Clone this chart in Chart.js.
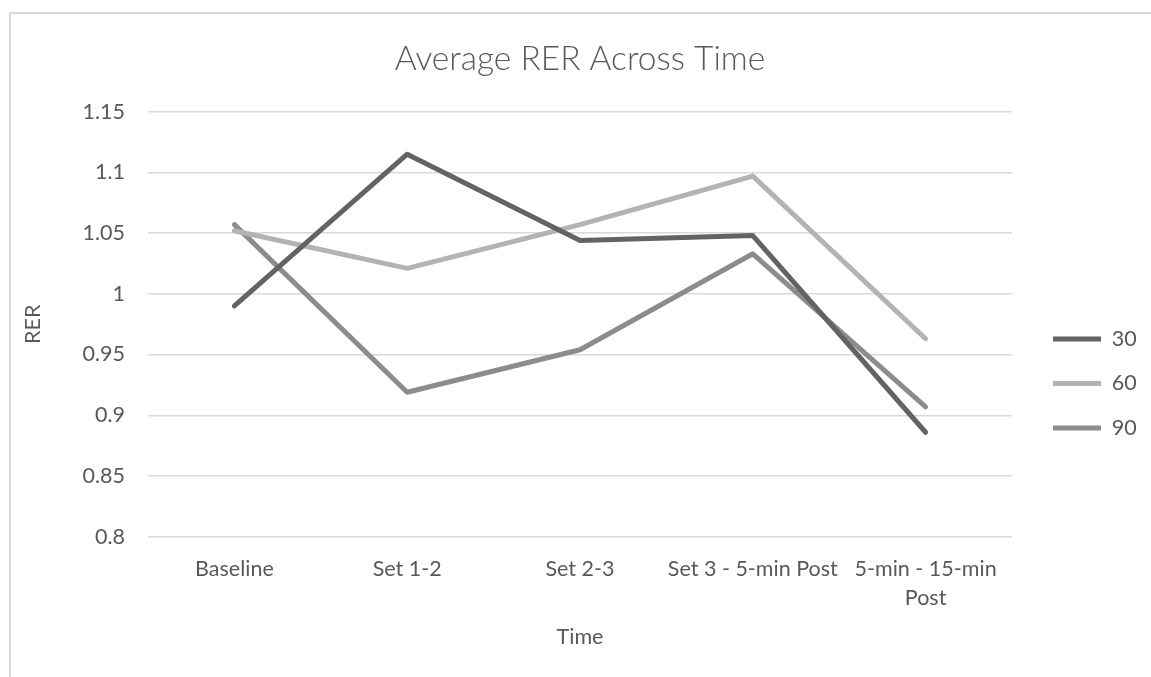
<!DOCTYPE html>
<html><head><meta charset="utf-8">
<script src="https://cdn.jsdelivr.net/npm/chart.js@4.4.1/dist/chart.umd.min.js"></script>
<style>
html,body{margin:0;padding:0;background:#fff;}
#wrap{position:relative;width:1151px;height:677px;overflow:hidden;}
#frame{position:absolute;left:9px;top:12px;width:1200px;height:700px;border-left:2px solid #d9d9d9;border-top:2px solid #d9d9d9;}
canvas{position:absolute;left:0;top:0;}
</style></head><body>
<div id="wrap"><div id="frame"></div><canvas id="c" width="1151" height="677"></canvas></div>
<script>
const categories = ['Baseline', 'Set 1-2', 'Set 2-3', 'Set 3 - 5-min Post', ['5-min - 15-min', 'Post']];
const seriesNames = ['30', '60', '90'];
const series30 = [0.990, 1.115, 1.044, 1.048, 0.886];
const series60 = [1.052, 1.021, 1.057, 1.097, 0.963];
const series90 = [1.057, 0.919, 0.954, 1.033, 0.907];
const yTickLabels = ['0.8', '0.85', '0.9', '0.95', '1', '1.05', '1.1', '1.15'];
const chartTitle = 'Average RER Across Time';
const xTitle = 'Time';
const yTitle = 'RER';

const FONT = 'Lato';
const TXT = '#595959';

const legendAdjust = {
  id: 'legendAdjust',
  afterInit(chart) {
    const lg = chart.legend;
    const orig = lg.fit.bind(lg);
    lg.fit = function () { orig(); this.width = 139; };
  },
  afterLayout(chart) {
    const lg = chart.legend;
    const dx = 18, dy = 45;
    lg.left += dx; lg.right += dx; lg.top += dy; lg.bottom += dy;
  }
};

function ds(label, data, color) {
  return {
    label, data,
    borderColor: color, backgroundColor: color,
    borderWidth: 5, borderCapStyle: 'round', borderJoinStyle: 'round',
    pointRadius: 0, pointHoverRadius: 0, tension: 0, fill: false
  };
}

new Chart(document.getElementById('c'), {
  type: 'line',
  data: {
    labels: categories,
    datasets: [
      ds(seriesNames[0], series30, '#636363'),
      ds(seriesNames[1], series60, '#b3b3b3'),
      ds(seriesNames[2], series90, '#8c8c8c')
    ]
  },
  options: {
    responsive: false,
    devicePixelRatio: 1,
    animation: false,
    layout: { padding: 0 },
    plugins: {
      title: {
        display: true, text: chartTitle, color: TXT, fullSize: false,
        font: { family: FONT, size: 33.5, weight: '300' },
        padding: { top: 39, bottom: 32.5 }
      },
      legend: {
        position: 'right',
        labels: {
          usePointStyle: true, pointStyle: 'line', pointStyleWidth: 48,
          padding: 23, color: TXT,
          font: { family: FONT, size: 21.5 }
        }
      },
      tooltip: { enabled: false }
    },
    scales: {
      x: {
        offset: true,
        grid: { display: false, drawTicks: false },
        border: { display: false },
        ticks: { color: TXT, font: { family: FONT, size: 21.5, lineHeight: 1.35 }, padding: 18, maxRotation: 0, autoSkip: false },
        title: { display: true, text: xTitle, color: TXT, font: { family: FONT, size: 21.5 }, padding: { top: 0, bottom: 27 } },
        afterFit(s) { s.height = 140.3; }
      },
      y: {
        min: 0.8, max: 1.15,
        grid: { color: '#d9d9d9', lineWidth: 1.5, drawTicks: false },
        border: { display: false },
        ticks: {
          stepSize: 0.05, color: TXT, padding: 23,
          font: { family: FONT, size: 21.5 },
          callback: (v, i) => yTickLabels[i]
        },
        title: { display: true, text: yTitle, color: TXT, font: { family: FONT, size: 21.5 }, padding: { top: 20, bottom: 0 } },
        afterFit(s) { s.width = 148; }
      }
    }
  },
  plugins: [legendAdjust]
});
</script>
</body></html>
